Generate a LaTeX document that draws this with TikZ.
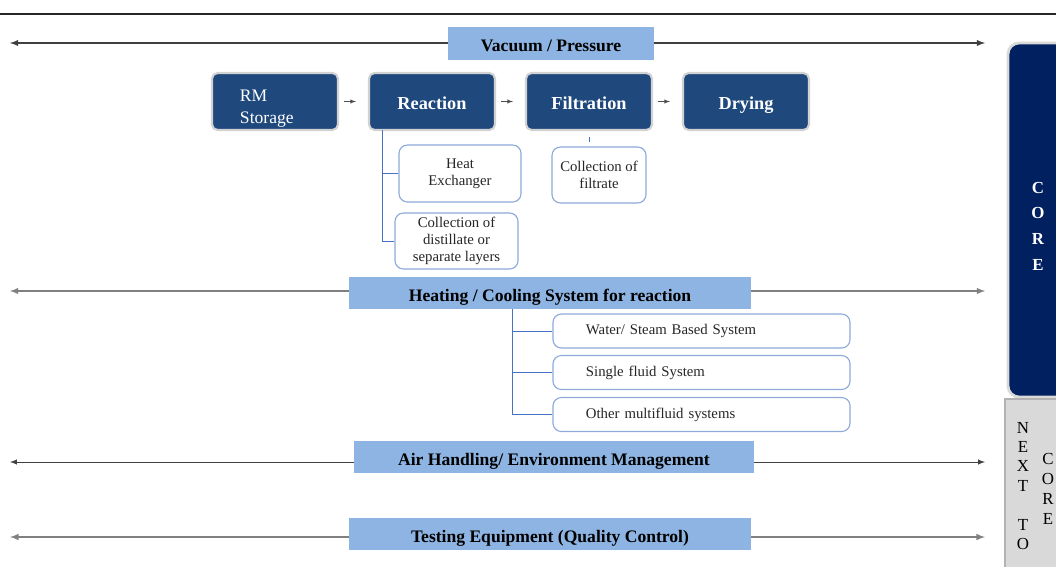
\documentclass[tikz,border=0pt]{standalone}
\usepackage{fontspec}
\setmainfont{Liberation Serif}
\usepackage{tikz}
\usetikzlibrary{positioning}
\usepackage{xcolor}

\definecolor{procblue}{HTML}{1F497D}
\definecolor{barblue}{HTML}{8DB4E2}
\definecolor{corenavy}{HTML}{002060}
\definecolor{treeblue}{HTML}{4472C4}
\definecolor{subline}{HTML}{8EAADB}
\definecolor{nextgray}{HTML}{D9D9D9}

\tikzset{
    procbox/.style={rectangle, rounded corners=4pt, fill=procblue, draw=gray!35, line width=1.5pt,
        text=white, minimum width=3.15cm, minimum height=1.425cm, inner sep=0pt,
        text height=12pt, text depth=0pt},
    subbox/.style={rectangle, rounded corners=6pt, fill=white, draw=subline, line width=0.8pt,
        text=black!85, align=center, font=\fontsize{10.5}{12}\selectfont, inner sep=0pt},
    sysbox/.style={subbox, minimum height=0.85cm, text width=5.775cm, inner xsep=0.825cm, align=left},
    barbox/.style={rectangle, fill=barblue, minimum height=0.8cm, inner sep=0pt,
        text height=12pt, text depth=0pt, font=\fontsize{12.5}{14}\bfseries\selectfont},
    barline/.style={latex-latex, black!75, line width=0.7pt},
    treeline/.style={treeblue, line width=0.7pt}
}

\begin{document}
\begin{tikzpicture}[x=0.025cm, y=-0.025cm]
    \useasboundingbox (0,0) rectangle (1056,566);

    % heading rule
    \draw[line width=1pt, black!85] (0,14) -- (1056,14);

    % side panels
    \node[rectangle, rounded corners=8pt, fill=corenavy, draw=gray!30, line width=2pt,
        minimum width=1.5cm, minimum height=8.85cm, text=white, align=center,
        text height=72pt, text depth=0pt,
        font=\fontsize{12}{18.4}\bfseries\selectfont] (core) at (1038,220) {C\\O\\R\\E};
    \node[rectangle, fill=nextgray, draw=gray!60, line width=0.8pt,
        minimum width=1.5cm, minimum height=4.3cm] (next) at (1035,485) {};
    \node[align=center, font=\fontsize{12}{13.8}\selectfont, anchor=north] (nexttxt)
        at (1023,417) {N\\E\\X\\T\\[13.8pt]T\\O};
    \node[align=center, font=\fontsize{12}{14.2}\selectfont, anchor=north] (nextcore)
        at (1048,448) {C\\O\\R\\E};

    % vacuum / pressure
    \coordinate (vacL) at (10,43);
    \coordinate (vacR) at (985,43);
    \draw[barline, line width=1pt] (vacL) -- (vacR);
    \node[barbox, minimum width=5.15cm, minimum height=0.825cm] (vac) at (551,43.5) {Vacuum / Pressure};

    % process chain
    \node[procbox, align=left, text width=1.75cm, inner xsep=0.7cm, text height=19pt, text depth=18.5pt,
        font=\fontsize{12.5}{15.5}\selectfont] (rm) at (275,101.5) {RM\\Storage};
    \node[procbox, font=\fontsize{13}{15}\bfseries\selectfont] (react) at (432,101.5) {Reaction};
    \node[procbox, font=\fontsize{13}{15}\bfseries\selectfont] (filt) at (589,101.5) {Filtration};
    \node[procbox, font=\fontsize{13}{15}\bfseries\selectfont] (dry) at (746,101.5) {Drying};

    \draw[-latex, black!70, shorten <=0.13cm, shorten >=0.3cm] (rm) -- (react);
    \draw[-latex, black!70, shorten <=0.13cm, shorten >=0.3cm] (react) -- (filt);
    \draw[-latex, black!70, shorten <=0.13cm, shorten >=0.3cm] (filt) -- (dry);

    % reaction sub items
    \node[subbox, minimum width=3.05cm, minimum height=1.425cm] (heatx) at (460,173.5) {Heat\\Exchanger};
    \node[subbox, minimum width=3.075cm, minimum height=1.4cm] (distl) at (456.5,241)
        {Collection of\\distillate or\\separate layers};
    \coordinate (rtop) at (382,130);
    \draw[treeline] (rtop) |- (heatx.west);
    \draw[treeline] (rtop) |- (distl.west);

    % filtration sub item
    \node[subbox, minimum width=2.35cm, minimum height=1.4cm] (filtr) at (599,175) {Collection of\\filtrate};
    \draw[treeline, shorten <=6\pgflinewidth, shorten >=0.1cm] (filt.south) -- (filt.south |- filtr.north);

    % heating / cooling
    \coordinate (heatL) at (10,291);
    \coordinate (heatR) at (985,291);
    \draw[barline, gray, line width=1pt] (heatL) -- (heatR);
    \node[barbox, minimum width=10.05cm] (heat) at (550,293) {Heating / Cooling System for reaction};

    \node[sysbox] (water) at (701.5,331) {Water/ Steam Based System};
    \node[sysbox] (single) at (701.5,372.5) {Single fluid System};
    \node[sysbox] (other) at (701.5,414.5) {Other multifluid systems};
    \coordinate (htop) at (512,309);
    \draw[treeline] (htop) |- (water.west);
    \draw[treeline] (htop) |- (single.west);
    \draw[treeline] (htop) |- (other.west);

    % air handling
    \coordinate (airL) at (10,462);
    \coordinate (airR) at (985,462);
    \draw[barline] (airL) -- (airR);
    \node[barbox, minimum width=10cm] (air) at (554,457) {Air Handling/ Environment Management};

    % testing
    \coordinate (testL) at (10,537);
    \coordinate (testR) at (985,537);
    \draw[barline, gray, line width=1.1pt] (testL) -- (testR);
    \node[barbox, minimum width=10.05cm] (test) at (550,534) {Testing Equipment (Quality Control)};
\end{tikzpicture}
\end{document}
